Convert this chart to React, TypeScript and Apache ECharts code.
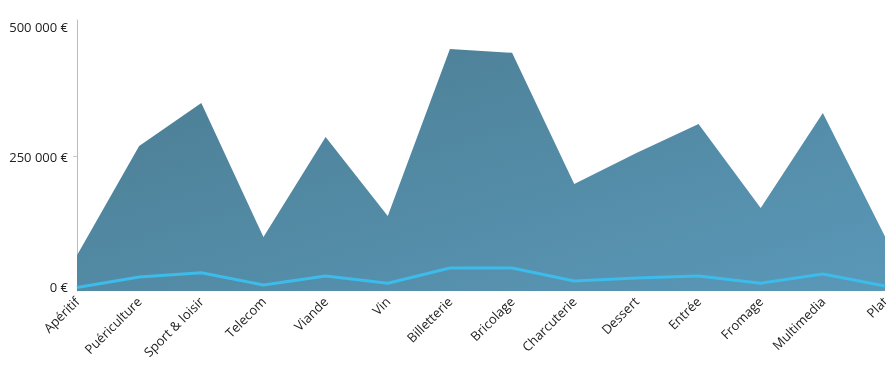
import React, { useEffect, useRef } from "react";
import * as echarts from "echarts";

const categories = [
  "Apéritif", "Puériculture", "Sport & loisir", "Telecom", "Viande", "Vin",
  "Billetterie", "Bricolage", "Charcuterie", "Dessert", "Entrée", "Fromage",
  "Multimedia", "Plat",
];
const revenue = [
  60000, 270000, 353000, 95000, 287500, 135600, 456700, 449500, 197100,
  256700, 312500, 150900, 333600, 96000,
];
const margin = [
  -2000, 18300, 26500, 2900, 20200, 6200, 35600, 35600, 10600, 16300, 20200,
  6200, 24000, 1000,
];
const yTicks = [0, 250000, 500000];

const fmt = (v: number) =>
  String(Math.round(v)).replace(/\B(?=(\d{3})+(?!\d))/g, " ") + " €";

export default function App() {
  const ref = useRef<HTMLDivElement>(null);
  useEffect(() => {
    if (!ref.current) return;
    const chart = echarts.init(ref.current, undefined, { renderer: "svg" });
    chart.setOption({
      animation: false,
      textStyle: { fontFamily: "Open Sans" },
      grid: {
        left: 77,
        top: 20,
        right: 1,
        bottom: 78,
        containLabel: false,
        outerBoundsMode: "none",
      },
      xAxis: {
        type: "category",
        data: categories,
        boundaryGap: false,
        axisLine: { show: true, lineStyle: { color: "#cccccc", width: 1 } },
        axisTick: { show: false },
        axisLabel: {
          rotate: 45,
          margin: 8,
          color: "#222",
          fontSize: 13,
          fontFamily: "Open Sans",
          interval: 0,
        },
      },
      yAxis: {
        type: "value",
        min: -8650,
        max: 512500,
        splitLine: { show: false },
        axisLine: { show: true, lineStyle: { color: "#bbbbbb", width: 1 } },
        axisTick: {
          show: true,
          length: 4,
          customValues: [250000],
          lineStyle: { color: "#cccccc" },
        },
        axisLabel: {
          customValues: yTicks,
          formatter: (v: number) => fmt(v),
          color: "#222",
          fontSize: 13,
          fontFamily: "Open Sans",
          margin: 9,
        },
      },
      series: [
        {
          type: "line",
          data: revenue,
          symbol: "none",
          lineStyle: { width: 0 },
          areaStyle: {
            origin: "start",
            opacity: 1,
            color: new echarts.graphic.LinearGradient(0, 0, 1, 1, [
              { offset: 0, color: "#4b7c91" },
              { offset: 1, color: "#5a98b8" },
            ]),
          },
          z: 1,
        },
        {
          type: "line",
          data: margin,
          symbol: "none",
          lineStyle: { width: 3, color: "#3dbbea" },
          z: 2,
        },
      ],
    });
    return () => chart.dispose();
  }, []);
  return (
    <div
      ref={ref}
      style={{ position: "fixed", left: 0, top: 0, width: 886, height: 369 }}
    />
  );
}
